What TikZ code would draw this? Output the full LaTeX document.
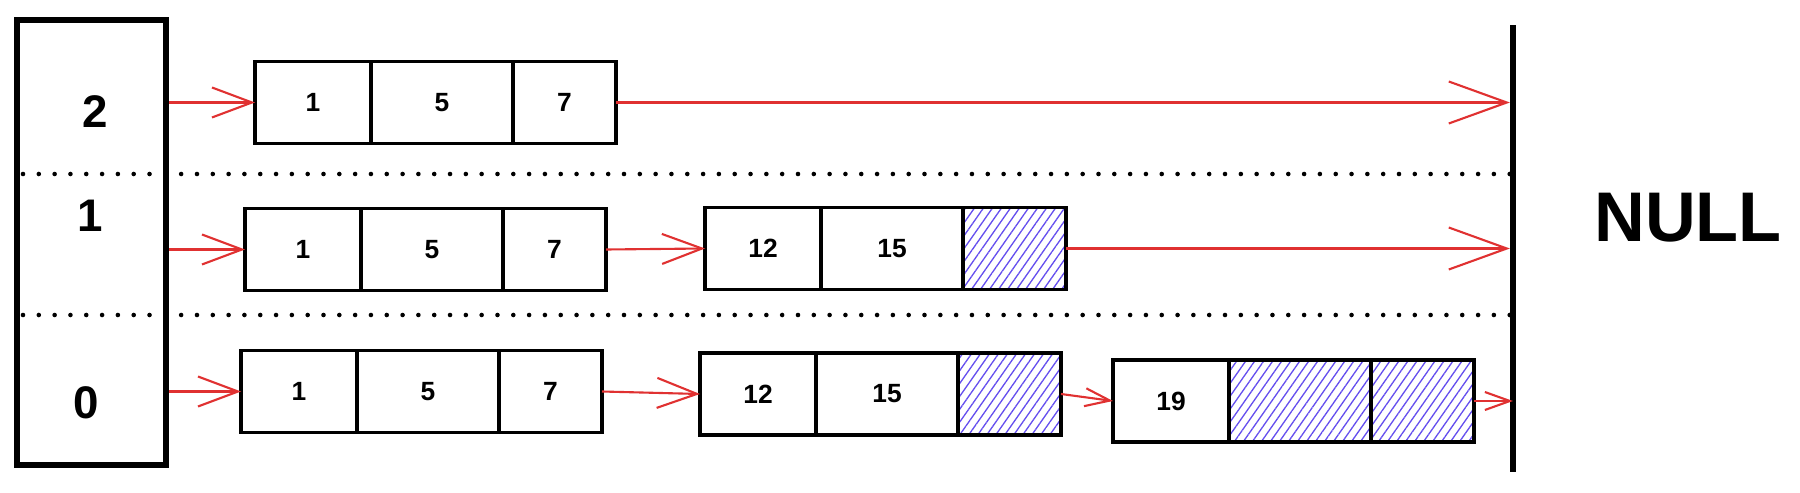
\documentclass[tikz,border=0pt]{standalone}
\usepackage{fontspec}
\setmainfont{Liberation Sans}
\usetikzlibrary{positioning,arrows.meta,patterns.meta}
\definecolor{linkred}{RGB}{224,49,49}
\definecolor{hatchblue}{RGB}{100,78,238}

\tikzset{
  cell/.style={draw, line width=2.1pt, inner sep=0pt, outer sep=0pt, minimum height=16.4mm, font=\fontsize{15}{15}\selectfont\bfseries},
  keyw/.style={cell, minimum width=23.2mm},
  midw/.style={cell, minimum width=28.4mm},
  endw/.style={cell, minimum width=20.6mm},
  hole/.style={pattern={Lines[angle=55,distance=4.2pt,line width=0.75pt]}, pattern color=hatchblue},
  lvltxt/.style={font=\fontsize{26}{26}\selectfont\bfseries},
  sep/.style={line width=2.6pt, line cap=round, dash pattern=on 0pt off 9pt},
  ptr/.style={draw=linkred, line width=1.2pt, -{Straight Barb[length=8mm,width=6mm]}},
  longptr/.style={draw=linkred, line width=1.2pt, -{Straight Barb[length=11.6mm,width=8.4mm]}},
  shortptr/.style={draw=linkred, line width=1.2pt, -{Straight Barb[length=5mm,width=3.6mm]}}
}

\begin{document}
\begin{tikzpicture}[x=0.2mm, y=-0.2mm]
  \useasboundingbox (0,0) rectangle (1800,493);

  %%% level column
  \node[draw, line width=3.2pt, minimum width=29.8mm, minimum height=89mm] (lvl) at (91.5,242.5) {};
  \node[lvltxt] (l2) at (95,112) {2};
  \node[lvltxt] (l1) at (90,216) {1};
  \node[lvltxt] (l0) at (86,403) {0};

  %%% null end
  \node[fill=black, inner sep=0pt, minimum width=1.1mm, minimum height=89.4mm] (bar) at (1513,248.5) {};
  \node[font=\fontsize{40}{40}\selectfont\bfseries] (nulltxt) at (1688,218) {NULL};

  \coordinate (s2) at (23,174);
  \coordinate (s1) at (23,315);
  \draw[sep] (s2) -- (bar.west |- s2);
  \draw[sep] (s1) -- (bar.west |- s1);

  %%% level 2
  \node[keyw, anchor=west] (n2a) at (255,102.5) {1};
  \node[midw, right=0pt of n2a] (n2b) {5};
  \node[endw, right=0pt of n2b] (n2c) {7};

  \draw[ptr] (lvl.east |- n2a.west) -- (n2a.west);
  \draw[longptr] (n2c.east) -- (bar.west |- n2c.east);

  %%% level 1
  \node[keyw, anchor=west] (n1a) at (245,249.5) {1};
  \node[midw, right=0pt of n1a] (n1b) {5};
  \node[endw, right=0pt of n1b] (n1c) {7};

  \node[keyw, anchor=west] (n1d) at (705,248.5) {12};
  \node[midw, right=0pt of n1d] (n1e) {15};
  \node[endw, hole, right=0pt of n1e] (n1f) {};

  \draw[ptr] (lvl.east |- n1a.west) -- (n1a.west);
  \draw[ptr] (n1c.east) -- (n1d.west);
  \draw[longptr] (n1f.east) -- (bar.west |- n1f.east);

  %%% level 0
  \node[keyw, anchor=west] (n0a) at (241,391.5) {1};
  \node[midw, right=0pt of n0a] (n0b) {5};
  \node[endw, right=0pt of n0b] (n0c) {7};

  \node[keyw, anchor=west] (n0d) at (700,394) {12};
  \node[midw, right=0pt of n0d] (n0e) {15};
  \node[endw, hole, right=0pt of n0e] (n0f) {};

  \node[keyw, anchor=west] (n0g) at (1113,401) {19};
  \node[midw, hole, right=0pt of n0g] (n0h) {};
  \node[endw, hole, right=0pt of n0h] (n0i) {};

  \draw[ptr] (lvl.east |- n0a.west) -- (n0a.west);
  \draw[ptr] (n0c.east) -- (n0d.west);
  \draw[shortptr] (n0f.east) -- (n0g.west);
  \draw[shortptr] (n0i.east) -- (bar.center |- n0i.east);
\end{tikzpicture}
\end{document}
